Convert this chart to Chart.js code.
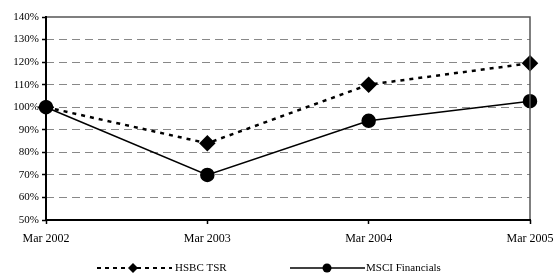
<!DOCTYPE html>
<html>
<head>
<meta charset="utf-8">
<script src="https://cdn.jsdelivr.net/npm/chart.js@4"></script>
<style>
  html, body { margin: 0; padding: 0; background: #fff; }
  #wrap { width: 553px; height: 280px; }
</style>
</head>
<body>
<div id="wrap"><canvas id="tsr-plot" width="553" height="280"></canvas></div>
<script>
// data
const labels = ['Mar 2002', 'Mar 2003', 'Mar 2004', 'Mar 2005'];
const hsbcTsr = [100, 84, 110, 119.5];
const msciFin = [100, 70, 94, 102.7];
const yMin = 50, yMax = 140, yStep = 10;

const serif = "'Liberation Serif', 'Times New Roman', serif";

// frame + bottom legend
const framePlugin = {
  id: 'frame',
  afterDatasetsDraw(chart) {
    const { ctx, chartArea: a } = chart;
    ctx.save();
    ctx.strokeStyle = '#555';
    ctx.lineWidth = 1.5;
    ctx.beginPath();
    ctx.moveTo(a.left, a.top); ctx.lineTo(a.right, a.top); ctx.lineTo(a.right, a.bottom);
    ctx.stroke();
    ctx.strokeStyle = '#000';
    ctx.lineWidth = 2;
    ctx.beginPath();
    ctx.moveTo(a.left, a.top - 1); ctx.lineTo(a.left, a.bottom); ctx.lineTo(a.right + 1, a.bottom);
    ctx.stroke();
    ctx.restore();
  },
  afterDraw(chart) {
    const { ctx } = chart;
    const y = 268;
    ctx.save();
    ctx.font = '11px ' + serif;
    ctx.fillStyle = '#000';
    ctx.textBaseline = 'middle';

    // HSBC TSR
    ctx.strokeStyle = '#000';
    ctx.lineWidth = 2;
    ctx.setLineDash([4, 4]);
    ctx.beginPath(); ctx.moveTo(97, y); ctx.lineTo(172, y); ctx.stroke();
    ctx.setLineDash([]);
    ctx.beginPath();
    ctx.moveTo(133, y - 5); ctx.lineTo(138, y); ctx.lineTo(133, y + 5); ctx.lineTo(128, y);
    ctx.closePath(); ctx.fill();
    ctx.fillText('HSBC TSR', 175, y);

    // MSCI Financials
    ctx.lineWidth = 1.5;
    ctx.beginPath(); ctx.moveTo(290, y); ctx.lineTo(365, y); ctx.stroke();
    ctx.beginPath(); ctx.arc(327, y, 4.5, 0, Math.PI * 2); ctx.fill();
    ctx.fillText('MSCI Financials', 366, y);
    ctx.restore();
  }
};

new Chart('tsr-plot', {
  type: 'line',
  data: {
    labels: labels,
    datasets: [
      {
        label: 'HSBC TSR',
        data: hsbcTsr,
        borderColor: '#000',
        backgroundColor: '#000',
        borderWidth: 2.5,
        borderDash: [4, 5],
        pointStyle: 'rectRot',
        pointRadius: 6.5,
        pointHoverRadius: 6.5,
        tension: 0,
        clip: false
      },
      {
        label: 'MSCI Financials',
        data: msciFin,
        borderColor: '#000',
        backgroundColor: '#000',
        borderWidth: 1.5,
        pointStyle: 'circle',
        pointRadius: 6.5,
        pointHoverRadius: 6.5,
        tension: 0,
        clip: false
      }
    ]
  },
  options: {
    responsive: false,
    animation: false,
    layout: { padding: { top: 17, right: 23, bottom: 0, left: 0 } },
    plugins: {
      legend: { display: false },
      tooltip: { enabled: false }
    },
    scales: {
      x: {
        offset: false,
        afterFit: (s) => { s.height = 60; s.paddingLeft = 0; s.paddingRight = 0; },
        grid: {
          drawOnChartArea: false,
          drawTicks: true,
          tickLength: 4,
          tickColor: '#000',
          tickWidth: 1.5
        },
        border: { display: false },
        ticks: {
          color: '#000',
          font: { family: serif, size: 12 },
          padding: 8,
          maxRotation: 0
        }
      },
      y: {
        min: yMin,
        max: yMax,
        afterFit: (s) => { s.width = 46; s.paddingTop = 0; s.paddingBottom = 0; },
        grid: {
          color: (c) => (c.tick && (c.tick.value === yMin || c.tick.value === yMax)) ? 'rgba(0,0,0,0)' : '#888',
          lineWidth: 1,
          drawTicks: true,
          tickLength: 4,
          tickColor: '#000',
          tickWidth: 1.5
        },
        border: { display: false, dash: [8, 5] },
        ticks: {
          stepSize: yStep,
          color: '#000',
          font: { family: serif, size: 11 },
          padding: 3,
          callback: (v) => v + '%'
        }
      }
    }
  },
  plugins: [framePlugin]
});
</script>
</body>
</html>
